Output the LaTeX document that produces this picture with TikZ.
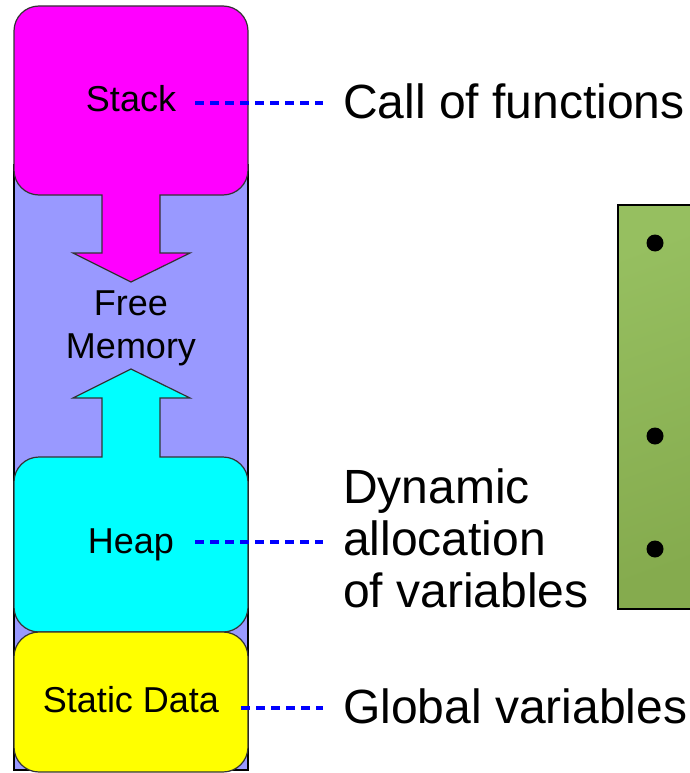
\documentclass[tikz,border=0pt]{standalone}
\usepackage{fontspec}
\setmainfont{Liberation Sans}
\usetikzlibrary{shadings}

\definecolor{freemem}{HTML}{9999FF}
\definecolor{stackc}{HTML}{FF00FF}
\definecolor{heapc}{HTML}{00FFFF}
\definecolor{staticc}{HTML}{FFFF00}
\definecolor{edgec}{HTML}{333333}
\definecolor{greentop}{HTML}{96BF60}
\definecolor{greenbot}{HTML}{85AB4E}

\tikzset{
  segment/.style={draw=edgec, line width=1.2pt},
  boxlabel/.style={font=\fontsize{36}{43}\selectfont, inner sep=0pt, anchor=base},
  sidelabel/.style={font=\fontsize{48}{52}\selectfont, inner sep=0pt, anchor=base west},
  leader/.style={draw=blue, line width=4pt, dash pattern=on 9pt off 6pt},
  bulletdot/.style={circle, fill=black, minimum size=17pt, inner sep=0pt},
}

\begin{document}
\begin{tikzpicture}[x=1pt, y=-1pt]
  \useasboundingbox (0,0) rectangle (689,773);

  % memory column background (free memory)
  \draw[fill=freemem, draw=black, line width=1.5pt] (14,165) rectangle (248,770);

  % stack segment with its downward growth arrow
  \draw[segment, fill=stackc]
    (39,6) -- (223,6) arc[start angle=90, end angle=0, radius=25pt]
    -- (248,170) arc[start angle=0, end angle=-90, radius=25pt]
    -- (160,195) -- (160,253) -- (190,253) -- (131,282) -- (73,253)
    -- (102,253) -- (102,195)
    -- (39,195) arc[start angle=-90, end angle=-180, radius=25pt]
    -- (14,31) arc[start angle=180, end angle=90, radius=25pt] -- cycle;

  % heap segment with its upward growth arrow
  \draw[segment, fill=heapc]
    (39,457) -- (102,457) -- (102,398) -- (73,398) -- (131,369)
    -- (190,398) -- (160,398) -- (160,457)
    -- (223,457) arc[start angle=90, end angle=0, radius=25pt]
    -- (248,607) arc[start angle=0, end angle=-90, radius=25pt]
    -- (39,632) arc[start angle=-90, end angle=-180, radius=25pt]
    -- (14,482) arc[start angle=180, end angle=90, radius=25pt] -- cycle;

  % static data segment
  \draw[segment, fill=staticc, rounded corners=25pt] (14,632) rectangle (248,772);

  % segment labels
  \node[boxlabel] (stack) at (131,112) {Stack};
  \node[boxlabel] (free) at (131,315) {Free};
  \node[boxlabel] (memory) at (131,358) {Memory};
  \node[boxlabel] (heap) at (131,553) {Heap};
  \node[boxlabel] (static) at (131,712) {Static Data};

  % descriptions
  \node[sidelabel] (calls) at (343,119) {Call of functions};
  \node[sidelabel] (dyn1) at (343,503) {Dynamic};
  \node[sidelabel] (dyn2) at (343,555) {allocation};
  \node[sidelabel] (dyn3) at (343,607) {of variables};
  \node[sidelabel] (glob) at (343,723) {Global variables};

  % leader lines
  \coordinate (stackR) at (195,103);
  \coordinate (callsL) at (323,103);
  \coordinate (heapR) at (195,542);
  \coordinate (dynL) at (323,542);
  \coordinate (staticR) at (241,708);
  \coordinate (globL) at (323,708);
  \draw[leader] (stackR) -- (callsL);
  \draw[leader] (heapR) -- (dynL);
  \draw[leader] (staticR) -- (globL);

  % green panel at the right edge
  \shade[top color=greentop, bottom color=greenbot, shading angle=20]
    (618,205) rectangle (695,609);
  \draw[black, line width=2pt] (695,205) -- (618,205) -- (618,609) -- (695,609);
  \node[bulletdot] (b1) at (655,243) {};
  \node[bulletdot] (b2) at (655,436) {};
  \node[bulletdot] (b3) at (655,549) {};
\end{tikzpicture}
\end{document}
